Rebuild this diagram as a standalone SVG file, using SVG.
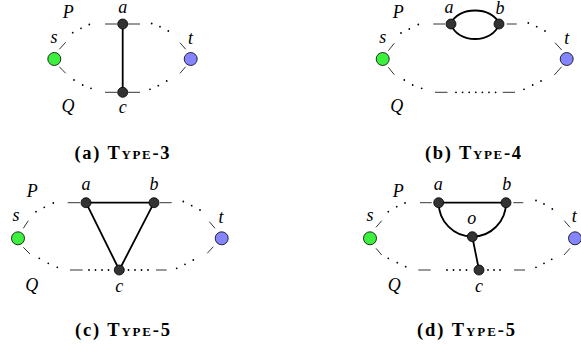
<svg xmlns="http://www.w3.org/2000/svg" width="581" height="349" viewBox="0 0 581 349">
<style>
.lbl{font-family:"Liberation Serif",serif;font-style:italic;font-size:18px;text-anchor:middle;fill:#000}
.cap{font-family:"Liberation Serif",serif;font-weight:bold;font-size:18.5px;text-anchor:middle;fill:#000}
.sc{font-variant:small-caps}
.stub{stroke:#000;stroke-width:0.8;fill:none}
.edge{stroke:#000;stroke-width:1.8;fill:none;stroke-linecap:round}
.dot{fill:#000}
.vs{fill:#3ef03e;stroke:#000;stroke-width:0.8}
.vt{fill:#8585ff;stroke:#000;stroke-width:0.8}
.vb{fill:#333;stroke:#000;stroke-width:0.8}
</style>
<defs>
<circle id="d" r="0.9" class="dot"/>
</defs>

<!-- Panel (a) -->
<g id="panel-a">
<g id="a-connectors">
<line class="stub" x1="59.3" y1="49.3" x2="65.7" y2="42.3"/>
<line class="stub" x1="59.3" y1="66.7" x2="65.7" y2="73.3"/>
<line class="stub" x1="105" y1="24" x2="117" y2="24"/>
<line class="stub" x1="128" y1="24" x2="140" y2="24"/>
<line class="stub" x1="105" y1="92.3" x2="117" y2="92.3"/>
<line class="stub" x1="128" y1="92.3" x2="140" y2="92.3"/>
<line class="stub" x1="180" y1="42.7" x2="185.7" y2="49.3"/>
<line class="stub" x1="180" y1="73.3" x2="185.7" y2="66.7"/>
<use href="#d" x="72.7" y="32.7"/><use href="#d" x="81" y="28.3"/><use href="#d" x="89.3" y="24.5"/>
<use href="#d" x="74" y="80"/><use href="#d" x="82.7" y="85"/><use href="#d" x="91" y="88.3"/>
<use href="#d" x="151.7" y="23.5"/><use href="#d" x="160" y="26.7"/><use href="#d" x="168.3" y="31"/>
<use href="#d" x="150" y="89.3"/><use href="#d" x="158.3" y="85.7"/><use href="#d" x="166.7" y="81"/>
<line class="edge" x1="122.7" y1="24" x2="122.7" y2="92.3"/>
</g>
<g id="a-s"><circle class="vs" cx="54.3" cy="59" r="6.5"/><text class="lbl" x="54" y="43">s</text></g>
<g id="a-t"><circle class="vt" cx="190.7" cy="59" r="6.5"/><text class="lbl" x="190.5" y="44">t</text></g>
<g id="a-a"><circle class="vb" cx="122.7" cy="24" r="5"/><text class="lbl" x="122.7" y="13">a</text></g>
<g id="a-c"><circle class="vb" cx="122.7" cy="92.3" r="5"/><text class="lbl" x="122.7" y="113">c</text></g>
<text class="lbl" x="68.3" y="18">P</text>
<text class="lbl" x="68" y="112">Q</text>
<text class="cap" x="122" y="159" textLength="95" lengthAdjust="spacing">(a) <tspan class="sc">Type</tspan>-3</text>
</g>

<!-- Panel (b) -->
<g id="panel-b">
<g id="b-connectors">
<line class="stub" x1="388.3" y1="50.7" x2="394.3" y2="43.3"/>
<line class="stub" x1="388.3" y1="67.3" x2="394.3" y2="74.7"/>
<line class="stub" x1="433.3" y1="24" x2="445" y2="24"/>
<line class="stub" x1="506.7" y1="24" x2="516.7" y2="24"/>
<line class="stub" x1="555" y1="42.7" x2="561.7" y2="50"/>
<line class="stub" x1="554.3" y1="75" x2="561.7" y2="66.7"/>
<line class="stub" x1="435" y1="92.3" x2="447.5" y2="92.3"/>
<line class="stub" x1="502.7" y1="92.3" x2="515" y2="92.3"/>
<use href="#d" x="401" y="33"/><use href="#d" x="409.3" y="29"/><use href="#d" x="418.3" y="24.5"/>
<use href="#d" x="528.3" y="23"/><use href="#d" x="536.7" y="26.7"/><use href="#d" x="545" y="31"/>
<use href="#d" x="404.3" y="80"/><use href="#d" x="412.7" y="85"/><use href="#d" x="421.7" y="88.3"/>
<use href="#d" x="456" y="92.3"/><use href="#d" x="462.6" y="92.3"/><use href="#d" x="469.2" y="92.3"/><use href="#d" x="475.8" y="92.3"/><use href="#d" x="482.4" y="92.3"/><use href="#d" x="489" y="92.3"/><use href="#d" x="495.6" y="92.3"/>
<use href="#d" x="524" y="89.3"/><use href="#d" x="532.7" y="85"/><use href="#d" x="541" y="81"/>
<path class="edge" d="M451 24 C457 6 493 6 499 24"/>
<path class="edge" d="M451 24 C457 44 493 44 499 24"/>
</g>
<g id="b-s"><circle class="vs" cx="382.7" cy="59" r="6.5"/><text class="lbl" x="382.7" y="43">s</text></g>
<g id="b-t"><circle class="vt" cx="566.7" cy="59" r="6.5"/><text class="lbl" x="566.7" y="44">t</text></g>
<g id="b-a"><circle class="vb" cx="451" cy="24" r="5"/><text class="lbl" x="449" y="13">a</text></g>
<g id="b-b"><circle class="vb" cx="499" cy="24" r="5"/><text class="lbl" x="500" y="14">b</text></g>
<text class="lbl" x="398.3" y="18">P</text>
<text class="lbl" x="396.7" y="112">Q</text>
<text class="cap" x="473" y="159" textLength="96" lengthAdjust="spacing">(b) <tspan class="sc">Type</tspan>-4</text>
</g>

<!-- Panel (c) -->
<g id="panel-c">
<g id="c-connectors">
<line class="stub" x1="23.3" y1="228.3" x2="28.3" y2="220.7"/>
<line class="stub" x1="23.3" y1="247.3" x2="30" y2="254"/>
<line class="stub" x1="67.7" y1="202.7" x2="80" y2="202.7"/>
<line class="stub" x1="160" y1="202.7" x2="171.7" y2="202.7"/>
<line class="stub" x1="209.3" y1="221.7" x2="215" y2="228.3"/>
<line class="stub" x1="207.3" y1="253.3" x2="213.3" y2="246.7"/>
<line class="stub" x1="70" y1="270" x2="82.7" y2="270"/>
<line class="stub" x1="156" y1="270" x2="166.7" y2="270"/>
<use href="#d" x="36" y="211.7"/><use href="#d" x="44.3" y="207.3"/><use href="#d" x="53.3" y="203"/>
<use href="#d" x="183.3" y="201.5"/><use href="#d" x="191.7" y="205.7"/><use href="#d" x="200" y="210"/>
<use href="#d" x="39.3" y="258.3"/><use href="#d" x="48.3" y="263.3"/><use href="#d" x="57.3" y="267.3"/>
<use href="#d" x="89" y="270"/><use href="#d" x="95.5" y="270"/><use href="#d" x="102" y="270"/><use href="#d" x="108.5" y="270"/>
<use href="#d" x="128.5" y="270"/><use href="#d" x="135" y="270"/><use href="#d" x="141.5" y="270"/><use href="#d" x="148" y="270"/>
<use href="#d" x="176.7" y="268.3"/><use href="#d" x="185" y="264.3"/><use href="#d" x="193.3" y="260"/>
<line class="edge" x1="86" y1="202.7" x2="154" y2="202.7"/>
<line class="edge" x1="86" y1="202.7" x2="119.3" y2="270"/>
<line class="edge" x1="154" y1="202.7" x2="119.3" y2="270"/>
</g>
<g id="c-s"><circle class="vs" cx="18" cy="238.3" r="6.5"/><text class="lbl" x="16" y="221">s</text></g>
<g id="c-t"><circle class="vt" cx="221.7" cy="238.3" r="6.5"/><text class="lbl" x="221" y="223">t</text></g>
<g id="c-a"><circle class="vb" cx="86" cy="202.7" r="5"/><text class="lbl" x="86" y="190">a</text></g>
<g id="c-b"><circle class="vb" cx="154" cy="202.7" r="5"/><text class="lbl" x="154" y="190">b</text></g>
<g id="c-c"><circle class="vb" cx="119.3" cy="270" r="5"/><text class="lbl" x="119.3" y="292">c</text></g>
<text class="lbl" x="32.3" y="197">P</text>
<text class="lbl" x="31.7" y="291">Q</text>
<text class="cap" x="122.5" y="336" textLength="95" lengthAdjust="spacing">(c) <tspan class="sc">Type</tspan>-5</text>
</g>

<!-- Panel (d) -->
<g id="panel-d">
<g id="d-connectors">
<line class="stub" x1="376" y1="227.3" x2="381.7" y2="220.7"/>
<line class="stub" x1="376" y1="248.3" x2="381.7" y2="255"/>
<line class="stub" x1="420" y1="202.7" x2="431.7" y2="202.7"/>
<line class="stub" x1="513.3" y1="202.7" x2="523.3" y2="202.7"/>
<line class="stub" x1="564.3" y1="220.7" x2="570" y2="227.3"/>
<line class="stub" x1="564" y1="255" x2="570" y2="248.3"/>
<line class="stub" x1="418.3" y1="270" x2="430.7" y2="270"/>
<line class="stub" x1="514" y1="270" x2="525" y2="270"/>
<use href="#d" x="388.3" y="211.7"/><use href="#d" x="396.7" y="206.7"/><use href="#d" x="405" y="203"/>
<use href="#d" x="536" y="200.5"/><use href="#d" x="544" y="204"/><use href="#d" x="552.3" y="209"/>
<use href="#d" x="388.3" y="258.3"/><use href="#d" x="397.3" y="262.7"/><use href="#d" x="405.7" y="266.7"/>
<use href="#d" x="447" y="270"/><use href="#d" x="453.5" y="270"/><use href="#d" x="460" y="270"/><use href="#d" x="466.5" y="270"/>
<use href="#d" x="488" y="270"/><use href="#d" x="494" y="270"/><use href="#d" x="500" y="270"/>
<use href="#d" x="536" y="267.3"/><use href="#d" x="544" y="263.3"/><use href="#d" x="551.7" y="259.3"/>
<line class="edge" x1="438.7" y1="202.7" x2="506" y2="202.7"/>
<path class="edge" d="M438.7 202.7 A33.6 34 0 0 0 472.3 236.7 A33.7 34 0 0 0 506 202.7"/>
<line class="edge" x1="472.3" y1="236.7" x2="479" y2="270"/>
</g>
<g id="d-s"><circle class="vs" cx="370" cy="238.3" r="6.5"/><text class="lbl" x="370" y="221">s</text></g>
<g id="d-t"><circle class="vt" cx="575" cy="238.3" r="6.5"/><text class="lbl" x="574.3" y="222">t</text></g>
<g id="d-a"><circle class="vb" cx="438.7" cy="202.7" r="5"/><text class="lbl" x="438.3" y="190">a</text></g>
<g id="d-b"><circle class="vb" cx="506" cy="202.7" r="5"/><text class="lbl" x="506.7" y="190">b</text></g>
<g id="d-o"><circle class="vb" cx="472.3" cy="236.7" r="5"/><text class="lbl" x="471.7" y="224">o</text></g>
<g id="d-c"><circle class="vb" cx="479" cy="270" r="5"/><text class="lbl" x="479" y="292">c</text></g>
<text class="lbl" x="398.3" y="197">P</text>
<text class="lbl" x="394.3" y="291">Q</text>
<text class="cap" x="466" y="336" textLength="98" lengthAdjust="spacing">(d) <tspan class="sc">Type</tspan>-5</text>
</g>
</svg>
